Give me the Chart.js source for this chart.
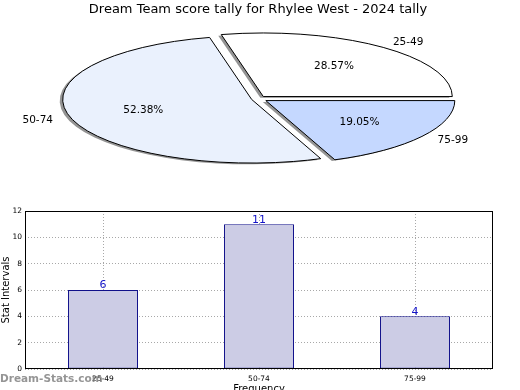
<!DOCTYPE html>
<html>
<head>
<meta charset="utf-8">
<script src="https://cdn.jsdelivr.net/npm/chart.js@4"></script>
<style>
  body { margin: 0; background: #fff; width: 520px; height: 390px; position: relative; overflow: hidden; }
  #pie { position: absolute; left: 0; top: 0; }
  #bars { position: absolute; left: 0; top: 190px; }
</style>
</head>
<body>
<canvas id="pie" width="520" height="190"></canvas>
<canvas id="bars" width="520" height="200"></canvas>
<script>
const categories = ["25-49", "50-74", "75-99"];
const counts = [6, 11, 4];
const yMax = 12;
const yStep = 2;

const title = "Dream Team score tally for Rhylee West - 2024 tally";
const watermark = "Dream-Stats.com";
const sliceColors = ["#ffffff", "#eaf1fd", "#c5d8ff"];

Chart.defaults.font.family = "'DejaVu Sans', sans-serif";
Chart.defaults.color = "#000";

// pie is drawn squashed (matplotlib style) from the library's arc angles
const RX = 189;
const RY = 63.6;
const explode = [0.045, 0.035, 0.05];

function wedge(ctx, x, y, a0, a1) {
  ctx.beginPath();
  ctx.moveTo(x, y);
  ctx.ellipse(x, y, RX, RY, 0, -a0, -a1, true);
  ctx.closePath();
}

const ellipsePie = {
  id: "ellipsePie",
  beforeDatasetsDraw() {
    return false;
  },
  afterDraw(chart) {
    const ctx = chart.ctx;
    const ds = chart.data.datasets[0];
    const total = ds.data.reduce((a, b) => a + b, 0);
    const geo = chart.getDatasetMeta(0).data.map((arc, i) => {
      const mid = (arc.startAngle + arc.endAngle) / 2;
      return {
        a0: arc.startAngle,
        a1: arc.endAngle,
        mid: mid,
        x: arc.x + explode[i] * RX * Math.cos(mid),
        y: arc.y - explode[i] * RY * Math.sin(mid)
      };
    });

    ctx.save();
    // shadows first
    geo.forEach(g => {
      wedge(ctx, g.x - 3, g.y + 1.3, g.a0, g.a1);
      ctx.fillStyle = "rgba(0,0,0,0.42)";
      ctx.fill();
    });
    geo.forEach((g, i) => {
      wedge(ctx, g.x, g.y, g.a0, g.a1);
      ctx.fillStyle = ds.backgroundColor[i];
      ctx.fill();
      ctx.lineWidth = 1;
      ctx.strokeStyle = "#000";
      ctx.stroke();
    });

    ctx.font = "10.5px 'DejaVu Sans'";
    ctx.fillStyle = "#000";
    ctx.textBaseline = "middle";
    geo.forEach((g, i) => {
      const c = Math.cos(g.mid), s = Math.sin(g.mid);
      ctx.textAlign = c > 0 ? "left" : "right";
      ctx.fillText(chart.data.labels[i], g.x + 1.1 * RX * c, g.y - 1.1 * RY * s);
      ctx.textAlign = "center";
      const pct = (ds.data[i] / total * 100).toFixed(2) + "%";
      ctx.fillText(pct, g.x + 0.6 * RX * c, g.y - 0.6 * RY * s);
    });
    ctx.restore();
  }
};

new Chart(document.getElementById("pie"), {
  type: "pie",
  data: {
    labels: categories,
    datasets: [{
      data: counts,
      backgroundColor: sliceColors
    }]
  },
  options: {
    responsive: false,
    animation: false,
    rotation: 90,
    layout: {
      padding: { right: 4, bottom: 10 }
    },
    plugins: {
      legend: { display: false },
      tooltip: { enabled: false },
      title: {
        display: true,
        text: title,
        color: "#000",
        font: { size: 13, weight: "normal" },
        padding: { top: 2, bottom: 0 }
      }
    }
  },
  plugins: [ellipsePie]
});

const frameAndValues = {
  id: "frameAndValues",
  afterDatasetsDraw(chart) {
    const ctx = chart.ctx;
    ctx.save();
    ctx.font = "11px 'DejaVu Sans'";
    ctx.fillStyle = "#1414c8";
    ctx.textAlign = "center";
    ctx.textBaseline = "bottom";
    chart.getDatasetMeta(0).data.forEach((bar, i) => {
      ctx.fillText(String(chart.data.datasets[0].data[i]), bar.x, bar.y + 1);
    });
    ctx.restore();
  },
  afterDraw(chart) {
    const a = chart.chartArea;
    const ctx = chart.ctx;
    ctx.save();
    ctx.strokeStyle = "#000";
    ctx.lineWidth = 1;
    ctx.strokeRect(Math.round(a.left) + 0.5, Math.round(a.top) + 0.5,
      Math.round(a.right - a.left) - 1, Math.round(a.bottom - a.top) - 1);
    // site watermark, bottom left
    ctx.font = "bold 10.5px 'DejaVu Sans'";
    ctx.fillStyle = "rgba(130,130,130,0.85)";
    ctx.textAlign = "left";
    ctx.textBaseline = "alphabetic";
    ctx.fillText(watermark, 0, 192);
    ctx.restore();
  }
};

new Chart(document.getElementById("bars"), {
  type: "bar",
  data: {
    labels: categories,
    datasets: [{
      data: counts,
      backgroundColor: "#ccccE5",
      borderColor: "#10108a",
      borderWidth: 1,
      borderSkipped: false,
      barPercentage: 0.449,
      categoryPercentage: 1
    }]
  },
  options: {
    responsive: false,
    animation: false,
    layout: {
      padding: { top: 21, right: 27, left: 0, bottom: 0 }
    },
    plugins: {
      legend: { display: false },
      tooltip: { enabled: false }
    },
    scales: {
      x: {
        z: 1,
        afterFit(scale) { scale.height = 21; },
        grid: {
          offset: false,
          color: "#a8a8a8",
          drawTicks: false
        },
        border: { display: false, dash: [1, 2] },
        ticks: {
          padding: 6,
          font: { size: 7.5 },
          color: "#000"
        },
        title: {
          display: true,
          text: "Frequency",
          font: { size: 10 },
          padding: { top: 0, bottom: -5 }
        }
      },
      y: {
        min: 0,
        max: yMax,
        afterFit(scale) { scale.width = 25; },
        grid: {
          color: "#a8a8a8",
          drawTicks: false
        },
        border: { display: false, dash: [1, 2] },
        ticks: {
          stepSize: yStep,
          padding: 3,
          font: { size: 7.5 },
          color: "#000"
        },
        title: {
          display: true,
          text: "Stat Intervals",
          font: { size: 10 },
          padding: { top: 0, bottom: 0 }
        }
      }
    }
  },
  plugins: [frameAndValues]
});
</script>
</body>
</html>
